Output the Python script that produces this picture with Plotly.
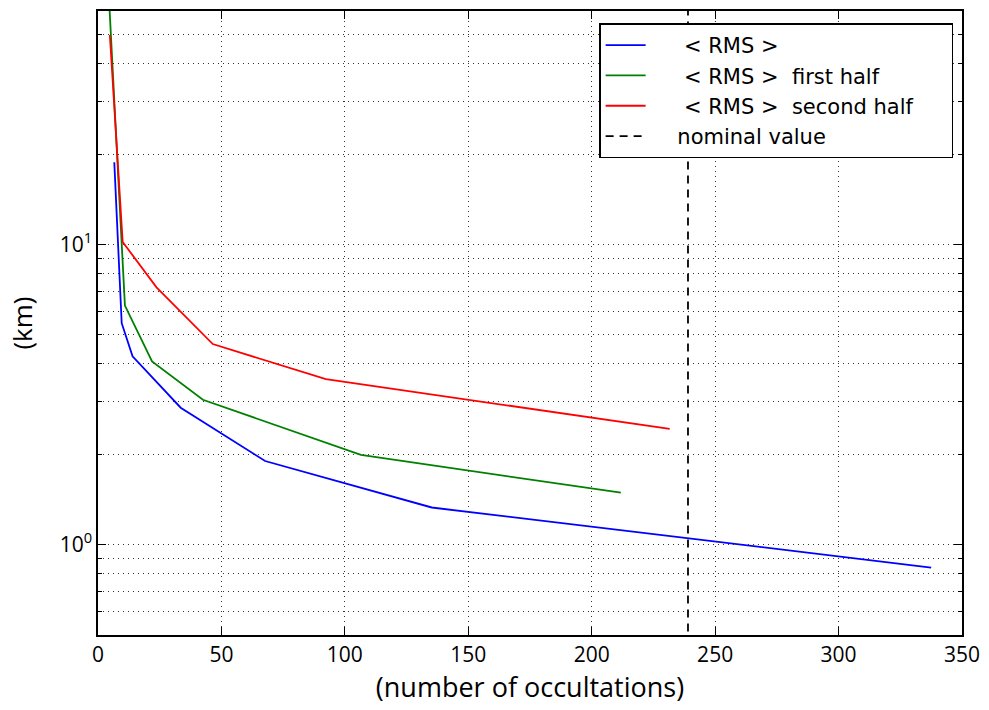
import plotly.graph_objects as go

# Data
blue_x = [6.6, 9.6, 14.0, 33.5, 67.7, 135.2, 337.5]
blue_y = [18.8, 5.47, 4.24, 2.86, 1.90, 1.33, 0.839]

green_x = [4.3, 10.9, 21.9, 42.5, 106.5, 211.8]
green_y = [70.0, 6.26, 4.08, 3.04, 1.99, 1.49]

red_x = [4.8, 10.0, 23.7, 46.5, 92.3, 231.6]
red_y = [49.9, 10.2, 7.2, 4.66, 3.56, 2.43]

nominal_x = 239
x_ticks = [0, 50, 100, 150, 200, 250, 300, 350]
y_major = [1, 10]
y_major_text = ["10<sup>0</sup>", "10<sup>1</sup>"]
y_minor = [0.5, 0.6, 0.7, 0.8, 0.9, 2, 3, 4, 5, 6, 7, 8, 9, 20, 30, 40, 50, 60]

series_names = ["     &lt; RMS &gt;", "     &lt; RMS &gt;  first half",
                "     &lt; RMS &gt;  second half&nbsp;&nbsp;&nbsp;&nbsp;&nbsp;", "    nominal value"]

FONT = "Open Sans"
GRID = dict(showgrid=True, gridcolor="#333333", griddash="1px,4px", gridwidth=1)

fig = go.Figure()
fig.add_trace(go.Scatter(x=blue_x, y=blue_y, mode="lines", name=series_names[0],
                         line=dict(color="#0000ff", width=1.8)))
fig.add_trace(go.Scatter(x=green_x, y=green_y, mode="lines", name=series_names[1],
                         line=dict(color="#008000", width=1.8)))
fig.add_trace(go.Scatter(x=red_x, y=red_y, mode="lines", name=series_names[2],
                         line=dict(color="#ff0000", width=1.8)))
fig.add_trace(go.Scatter(x=[nominal_x, nominal_x], y=[0.3, 100], mode="lines", name=series_names[3],
                         line=dict(color="black", width=1.8, dash="8px,6px")))

fig.update_layout(
    width=989, height=710,
    margin=dict(l=98, r=24, t=9, b=75),
    paper_bgcolor="white", plot_bgcolor="white",
    font=dict(family=FONT, size=21, color="black"),
    showlegend=True,
    legend=dict(x=0.58, y=0.98, xanchor="left", yanchor="top",
                bgcolor="white", bordercolor="black", borderwidth=1.5,
                font=dict(size=21, family="DejaVu Sans"), tracegroupgap=0,
                itemwidth=40),
    xaxis=dict(range=[0, 350], tickvals=x_ticks,
               showline=True, linecolor="black", linewidth=1.5, mirror="ticks",
               ticks="inside", ticklen=8, tickcolor="black", tickwidth=1,
               zeroline=False, **GRID,
               title=dict(text="(number of occultations)", font=dict(size=27), standoff=4)),
    yaxis=dict(type="log", range=[-0.30103, 1.778151],
               tickvals=y_major, ticktext=y_major_text,
               showline=True, linecolor="black", linewidth=1.5, mirror="ticks",
               ticks="inside", ticklen=8, tickcolor="black", tickwidth=1,
               zeroline=False, **GRID,
               minor=dict(tickvals=y_minor, ticks="inside", ticklen=4, tickcolor="black", **GRID),
               title=dict(text="(km)", font=dict(size=26), standoff=20)),
)

fig.write_html("out.html")
